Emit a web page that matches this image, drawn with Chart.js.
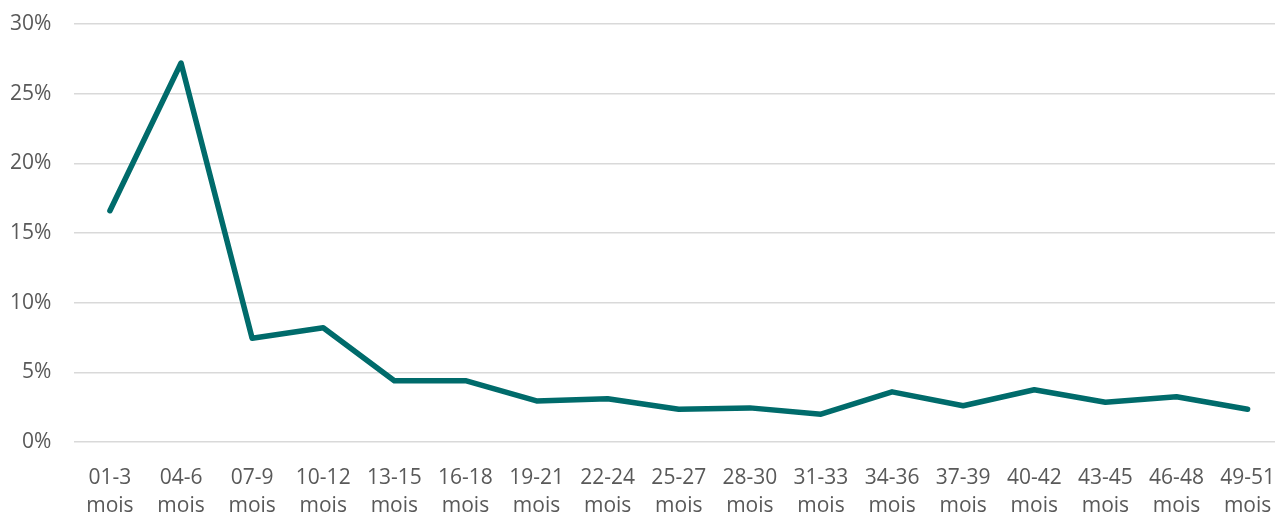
<!DOCTYPE html>
<html>
<head>
<meta charset="utf-8">
<script src="https://cdn.jsdelivr.net/npm/chart.js@4/dist/chart.umd.min.js"></script>
<style>
  html, body { margin: 0; padding: 0; background: #fff; overflow: hidden; }
  #wrap { width: 1275px; height: 513px; overflow: hidden; }
</style>
</head>
<body>
<div id="wrap"><canvas id="chart" width="1297" height="513"></canvas></div>
<script>
// tranches d'âge (mois)
const categories = [
  ["01-3", "mois"], ["04-6", "mois"], ["07-9", "mois"], ["10-12", "mois"],
  ["13-15", "mois"], ["16-18", "mois"], ["19-21", "mois"], ["22-24", "mois"],
  ["25-27", "mois"], ["28-30", "mois"], ["31-33", "mois"], ["34-36", "mois"],
  ["37-39", "mois"], ["40-42", "mois"], ["43-45", "mois"], ["46-48", "mois"],
  ["49-51", "mois"]
];
// part en %
const values = [16.6, 27.2, 7.45, 8.2, 4.4, 4.4, 2.95, 3.1, 2.35, 2.45, 2.0, 3.6, 2.6, 3.75, 2.85, 3.25, 2.35];
const yTicks = [0, 5, 10, 15, 20, 25, 30];

const ctx = document.getElementById("chart");
new Chart(ctx, {
  type: "line",
  data: {
    labels: categories,
    datasets: [
      {
        data: values,
        borderColor: "#006b6b",
        borderWidth: 5.5,
        pointRadius: 0,
        tension: 0,
        fill: false,
        borderCapStyle: "round",
        borderJoinStyle: "round",
      },
    ],
  },
  options: {
    responsive: false,
    animation: false,
    layout: { padding: { left: -13, top: 0, right: 0, bottom: -29 } },
    plugins: {
      legend: { display: false },
      tooltip: { enabled: false },
    },
    scales: {
      x: {
        offset: true,
        grid: { display: false, drawTicks: false },
        border: { display: false },
        ticks: {
          color: "#595959",
          font: { family: "Open Sans", size: 21, lineHeight: 1.333 },
          padding: 22,
          maxRotation: 0,
          autoSkip: false,
        },
      },
      y: {
        min: 0,
        max: 30,
        afterBuildTicks: (axis) => {
          axis.ticks = yTicks.map((v) => ({ value: v }));
        },
        grid: { color: "#d9d9d9", lineWidth: 1.5, drawTicks: false },
        border: { display: false },
        ticks: {
          color: "#595959",
          // small lineHeight so the top label does not push the plot down
          font: { family: "Open Sans", size: 21, lineHeight: 0.1 },
          padding: 23,
          autoSkip: false,
          callback: (v) => v + "%",
        },
      },
    },
  },
});
</script>
</body>
</html>
